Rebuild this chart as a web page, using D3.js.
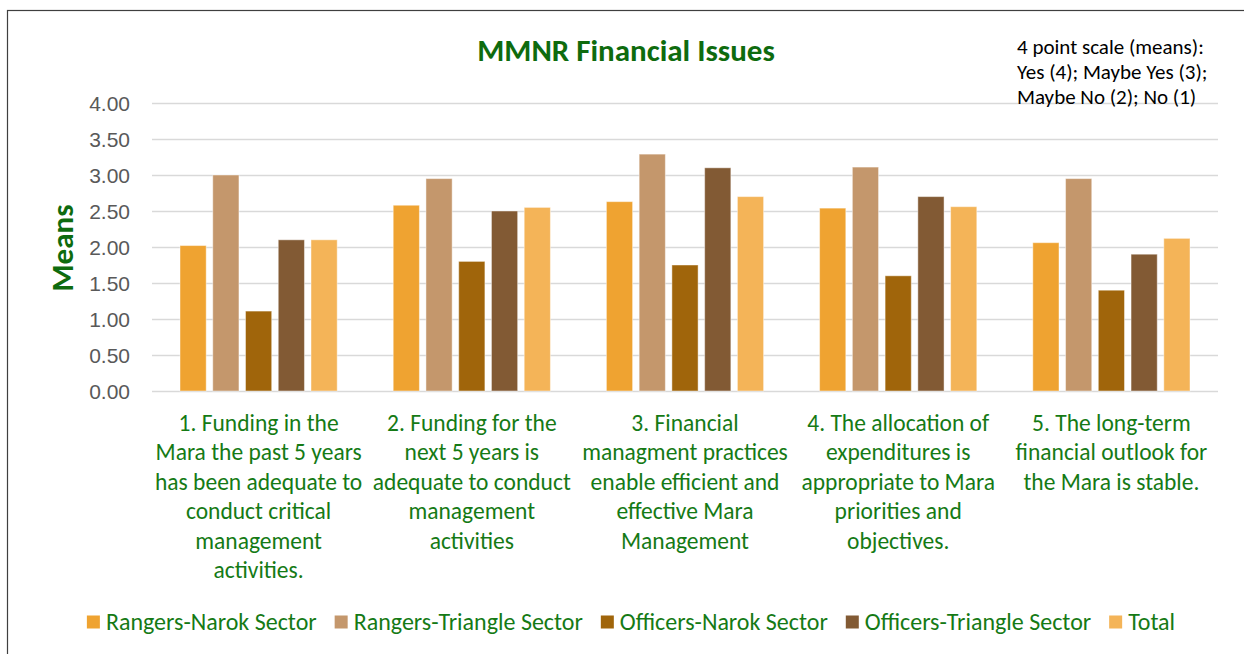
<!DOCTYPE html>
<html>
<head>
<meta charset="utf-8">
<script src="https://d3js.org/d3.v7.min.js"></script>
<style>
  body {
    margin: 0;
    background: #fff;
    font-family: Carlito, Calibri, Lato, sans-serif;
  }
  .grid line {
    stroke: #d9d9d9;
    stroke-width: 1.5px;
  }
  .axis text {
    fill: #595959;
    font-size: 21px;
  }
  .xlabel text {
    fill: #157a15;
    font-size: 23.5px;
  }
  .legend text {
    fill: #157a15;
    font-size: 24px;
  }
  .note text {
    fill: #000;
    font-size: 21px;
  }
</style>
</head>
<body>
<script>
  // data
  var categories = ["Q1", "Q2", "Q3", "Q4", "Q5"];

  var categoryLabels = [
    ["1. Funding in the", "Mara the past 5 years", "has been adequate to", "conduct critical", "management", "activities."],
    ["2. Funding for the", "next 5 years is", "adequate to conduct", "management", "activities"],
    ["3. Financial", "managment practices", "enable efficient and", "effective Mara", "Management"],
    ["4. The allocation of", "expenditures is", "appropriate to Mara", "priorities and", "objectives."],
    ["5. The long-term", "financial outlook for", "the Mara is stable."]
  ];

  var seriesNames = ["Rangers-Narok Sector", "Rangers-Triangle Sector", "Officers-Narok Sector", "Officers-Triangle Sector", "Total"];
  var seriesColors = ["#efa331", "#c4976c", "#a0650b", "#825a34", "#f4b458"];

  var rangersNarok    = [2.02, 2.58, 2.63, 2.54, 2.06];
  var rangersTriangle = [3.00, 2.95, 3.29, 3.11, 2.95];
  var officersNarok   = [1.11, 1.80, 1.75, 1.60, 1.40];
  var officersTriangle= [2.10, 2.50, 3.10, 2.70, 1.90];
  var total           = [2.10, 2.55, 2.70, 2.56, 2.12];

  var yTicks = [0, 0.5, 1, 1.5, 2, 2.5, 3, 3.5, 4];

  var noteLines = ["4 point scale (means):", "Yes (4); Maybe Yes (3);", "Maybe No (2); No (1)"];

  var seriesValues = [rangersNarok, rangersTriangle, officersNarok, officersTriangle, total];

  var rows = categories.map(function(c, i) {
    return {cat: c, values: seriesNames.map(function(s, j) { return {series: s, value: seriesValues[j][i], idx: j}; })};
  });

  var W = 1244, H = 654;
  var plot = {left: 152, right: 1218, top: 103, bottom: 391};

  var svg = d3.select("body").append("svg")
      .attr("width", W)
      .attr("height", H);

  // chart border
  svg.append("rect")
      .attr("x", 7.5).attr("y", 10.5)
      .attr("width", 1300).attr("height", 700)
      .attr("fill", "none")
      .attr("stroke", "#3f3f3f")
      .attr("stroke-width", 1.2);

  var x0 = d3.scaleBand()
      .domain(categories)
      .range([plot.left, plot.right]);

  var x1 = d3.scaleBand()
      .domain(seriesNames)
      .range([28, x0.bandwidth() - 28])
      .paddingInner(0.2);

  var y = d3.scaleLinear()
      .domain([0, 4])
      .range([plot.bottom, plot.top]);

  svg.append("g")
      .attr("class", "grid")
      .attr("transform", `translate(${plot.left},0)`)
      .call(d3.axisLeft(y).tickValues(yTicks).tickSize(-(plot.right - plot.left)).tickFormat(""))
      .call(g => g.select(".domain").remove());

  svg.append("g")
      .attr("class", "axis")
      .attr("transform", `translate(${plot.left},0)`)
      .call(d3.axisLeft(y).tickValues(yTicks).tickSize(0).tickPadding(22).tickFormat(d3.format(".2f")))
      .call(g => g.select(".domain").remove())
      .call(g => g.selectAll("text").attr("dy", "0.35em"));

  var groups = svg.selectAll(".cat")
      .data(rows)
    .enter().append("g")
      .attr("class", "cat")
      .attr("transform", d => `translate(${x0(d.cat)},0)`);

  groups.selectAll("rect")
      .data(d => d.values)
    .enter().append("rect")
      .attr("x", d => x1(d.series))
      .attr("width", x1.bandwidth())
      .attr("y", d => y(d.value))
      .attr("height", d => y(0) - y(d.value))
      .attr("fill", d => seriesColors[d.idx])
      .attr("stroke", "rgba(255,255,255,0.45)")
      .attr("stroke-width", 1);

  // category labels
  var xl = svg.append("g").attr("class", "xlabel");
  categoryLabels.forEach(function(lines, i) {
    var cx = x0(categories[i]) + x0.bandwidth() / 2;
    xl.append("text")
        .attr("text-anchor", "middle")
        .selectAll("tspan")
        .data(lines)
      .enter().append("tspan")
        .attr("x", cx)
        .attr("y", (d, k) => 431 + k * 29.4)
        .text(d => d);
  });

  // title
  svg.append("text")
      .attr("x", 626).attr("y", 61)
      .attr("text-anchor", "middle")
      .attr("fill", "#0e6b0e")
      .attr("font-size", 31)
      .attr("font-weight", "bold")
      .text("MMNR Financial Issues");

  // y axis title
  svg.append("text")
      .attr("transform", "translate(73,248) rotate(-90)")
      .attr("text-anchor", "middle")
      .attr("fill", "#0e6b0e")
      .attr("font-size", 31)
      .attr("font-weight", "bold")
      .text("Means");

  // scale note
  svg.append("g").attr("class", "note")
    .selectAll("text")
      .data(noteLines)
    .enter().append("text")
      .attr("x", 1017)
      .attr("y", (d, i) => 54 + i * 25)
      .text(d => d);

  // legend
  var legend = svg.append("g").attr("class", "legend");
  var items = legend.selectAll("g")
      .data(seriesNames)
    .enter().append("g");

  items.append("rect")
      .attr("width", 13).attr("height", 13)
      .attr("y", -6.5)
      .attr("fill", (d, i) => seriesColors[i]);

  items.append("text")
      .attr("x", 19)
      .attr("dy", "0.35em")
      .text(d => d);

  var lx = 0;
  items.each(function() {
    var w = this.querySelector("text").getComputedTextLength();
    d3.select(this).attr("transform", `translate(${lx},0)`);
    lx += 19 + w + 18;
  });
  var legendWidth = lx - 18;
  legend.attr("transform", `translate(${631 - legendWidth / 2},622)`);
</script>
</body>
</html>
